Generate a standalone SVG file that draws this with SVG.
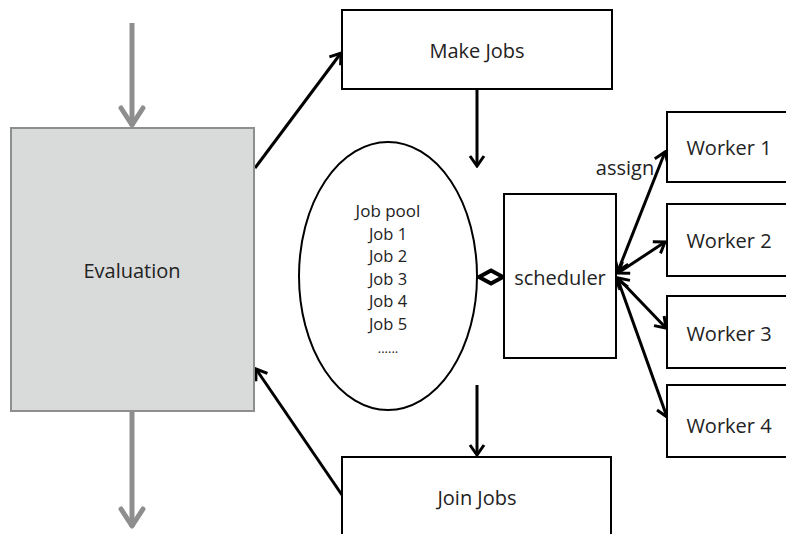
<svg xmlns="http://www.w3.org/2000/svg" width="786" height="534" viewBox="0 0 786 534">
  <style>
    .box { fill: #ffffff; stroke: #000000; stroke-width: 2; }
    .eval { fill: #d9dada; stroke: #8e8e8e; stroke-width: 2; }
    .lbl { font-family: "Open Sans", "Noto Sans", sans-serif; font-size: 20px; fill: #222222; text-anchor: middle; }
    .pool { font-family: "Open Sans", "Noto Sans", sans-serif; font-size: 16.5px; fill: #222222; text-anchor: middle; }
    .link { stroke: #000000; stroke-width: 3; fill: none; }
    .flow { stroke: #8e8e8e; stroke-width: 5; fill: none; }
  </style>
  <defs>
    <marker id="head" markerUnits="userSpaceOnUse" viewBox="-12 -9 14 18" markerWidth="14" markerHeight="18" refX="0" refY="0" orient="auto-start-reverse">
      <path d="M -10 -7 L 0 0 L -10 7" fill="none" stroke="#000000" stroke-width="3"/>
    </marker>
    <marker id="grayHead" markerUnits="userSpaceOnUse" viewBox="-22 -14 25 28" markerWidth="25" markerHeight="28" refX="0" refY="0" orient="auto">
      <path d="M -18 -11 L -1 0 L -18 11" fill="none" stroke="#8e8e8e" stroke-width="5" stroke-linecap="round" stroke-linejoin="round"/>
    </marker>
  </defs>

  <!-- connectors -->
  <g id="connectors">
    <line class="flow" x1="132" y1="23" x2="132" y2="126" marker-end="url(#grayHead)"/>
    <line class="flow" x1="132" y1="412" x2="132" y2="527" marker-end="url(#grayHead)"/>
    <line class="link" x1="255" y1="168" x2="341" y2="53" marker-end="url(#head)"/>
    <line class="link" x1="342" y1="495" x2="256" y2="369" marker-end="url(#head)"/>
    <line class="link" x1="477" y1="90" x2="477" y2="166" marker-end="url(#head)"/>
    <line class="link" x1="477" y1="385" x2="477" y2="455" marker-end="url(#head)"/>
    <line class="link" x1="477" y1="277" x2="504" y2="277"/>
    <polygon points="479,277 491,270.5 503,277 491,283.5" fill="#ffffff" stroke="#000000" stroke-width="4"/>
    <line class="link" x1="618" y1="271" x2="665" y2="152" marker-start="url(#head)" marker-end="url(#head)"/>
    <line class="link" x1="618" y1="273" x2="665" y2="242" marker-start="url(#head)" marker-end="url(#head)"/>
    <line class="link" x1="618" y1="278" x2="666" y2="328" marker-start="url(#head)" marker-end="url(#head)"/>
    <line class="link" x1="618" y1="280" x2="667" y2="417" marker-start="url(#head)" marker-end="url(#head)"/>
    <text class="lbl" x="625" y="175">assign</text>
  </g>

  <g id="evaluation">
    <rect class="eval" x="11" y="128" width="243" height="283"/>
    <text class="lbl" x="132" y="278">Evaluation</text>
  </g>

  <g id="make-jobs">
    <rect class="box" x="342" y="10" width="270" height="79"/>
    <text class="lbl" x="477" y="58">Make Jobs</text>
  </g>

  <g id="job-pool">
    <ellipse cx="388" cy="276" rx="89" ry="134" fill="#ffffff" stroke="#000000" stroke-width="2"/>
    <text class="pool" x="388" y="217" style="font-size:17px">Job pool</text>
    <text class="pool" x="388" y="240">Job 1</text>
    <text class="pool" x="388" y="262">Job 2</text>
    <text class="pool" x="388" y="285">Job 3</text>
    <text class="pool" x="388" y="307">Job 4</text>
    <text class="pool" x="388" y="330">Job 5</text>
    <text class="pool" x="388" y="353" style="font-size:13px">......</text>
  </g>

  <g id="scheduler">
    <rect class="box" x="504" y="194" width="112" height="164"/>
    <text class="lbl" x="560" y="285">scheduler</text>
  </g>

  <g id="join-jobs">
    <rect class="box" x="342" y="457" width="269" height="90"/>
    <text class="lbl" x="477" y="505">Join Jobs</text>
  </g>

  <g id="worker-1">
    <rect class="box" x="667" y="112" width="130" height="70"/>
    <text class="lbl" x="729" y="155">Worker 1</text>
  </g>
  <g id="worker-2">
    <rect class="box" x="667" y="204" width="130" height="72"/>
    <text class="lbl" x="729" y="248">Worker 2</text>
  </g>
  <g id="worker-3">
    <rect class="box" x="667" y="296" width="130" height="72"/>
    <text class="lbl" x="729" y="341">Worker 3</text>
  </g>
  <g id="worker-4">
    <rect class="box" x="667" y="385" width="130" height="72"/>
    <text class="lbl" x="729" y="433">Worker 4</text>
  </g>
</svg>
